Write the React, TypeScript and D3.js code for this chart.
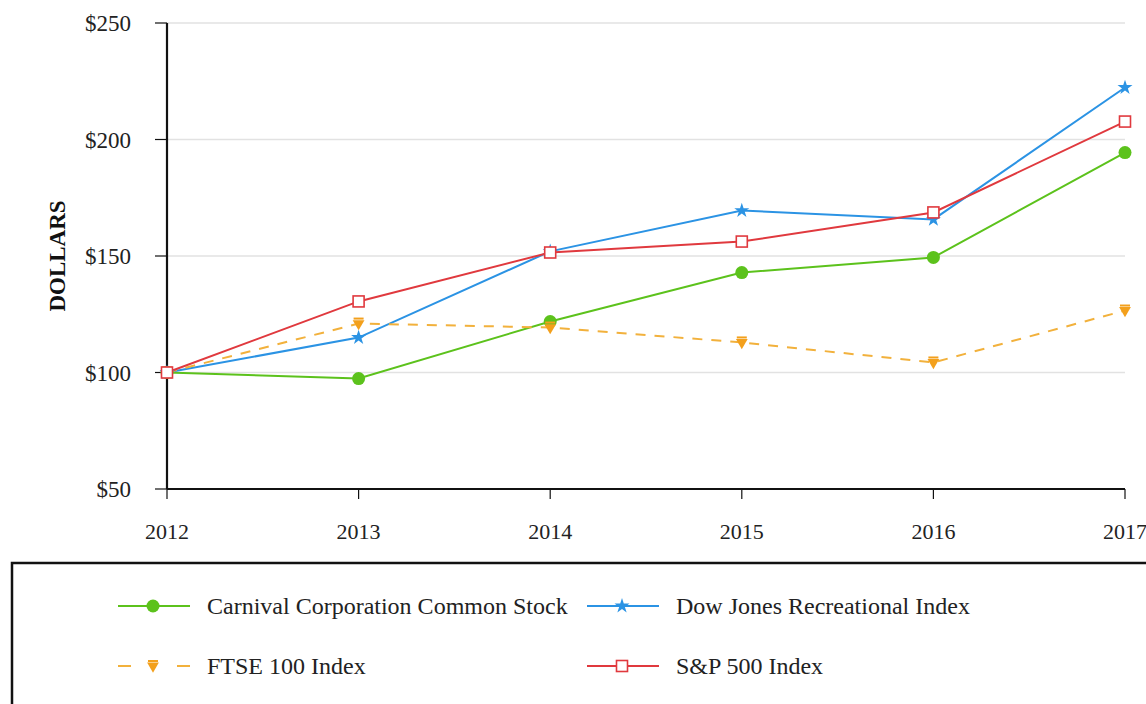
import * as d3 from "d3";

const years = [2012, 2013, 2014, 2015, 2016, 2017];
const carnival = [100, 97.4, 121.9, 142.9, 149.4, 194.4];
const dowJones = [100, 115, 152, 169.5, 165.7, 222.3];
const ftse = [100, 121, 119.3, 112.9, 104.3, 126.6];
const sp500 = [100, 130.5, 151.5, 156.2, 168.7, 207.7];
const yTicks = [50, 100, 150, 200, 250];

const series = [
  { name: "Carnival Corporation Common Stock", values: carnival, color: "#5cc21c", marker: "circle", dash: "" },
  { name: "Dow Jones Recreational Index", values: dowJones, color: "#2b93e4", marker: "star", dash: "" },
  { name: "FTSE 100 Index", values: ftse, color: "#f2b13c", marker: "tri", dash: "10,9" },
  { name: "S&P 500 Index", values: sp500, color: "#e0393e", marker: "square", dash: "" },
];

const W = 1146;
const H = 704;
const FONT = "'Liberation Serif', 'Times New Roman', serif";

function Marker({ kind, x, y, color }: { kind: string; x: number; y: number; color: string }) {
  if (kind === "circle") return <circle cx={x} cy={y} r={6.5} fill={color} />;
  if (kind === "star") {
    const p = d3.symbol().type(d3.symbolStar).size(70)() ?? "";
    return <path d={p} transform={`translate(${x},${y})`} fill={color} />;
  }
  if (kind === "square")
    return <rect x={x - 5.5} y={y - 5.5} width={11} height={11} fill="white" stroke={color} strokeWidth={1.6} />;
  // down-pointing triangle with a little cap, for FTSE
  const p = d3.symbol().type(d3.symbolTriangle).size(60)() ?? "";
  return (
    <g transform={`translate(${x},${y})`} fill="#f3a01c">
      <path d={p} transform="rotate(180)" />
      <rect x={-5} y={-6} width={10} height={2} />
    </g>
  );
}

export default function App() {
  const x = d3.scaleLinear().domain([2012, 2017]).range([167, 1125]);
  const y = d3.scaleLinear().domain([50, 250]).range([489, 23]);
  const line = d3
    .line<number>()
    .x((_, i) => x(years[i]))
    .y((d) => y(d));

  const legendPos = [
    { lx: 118, ly: 606 },
    { lx: 587, ly: 606 },
    { lx: 118, ly: 666 },
    { lx: 587, ly: 666 },
  ];

  return (
    <svg
      width={W}
      height={H}
      style={{ position: "absolute", left: 0, top: 0, background: "white" }}
      fontFamily={FONT}
    >
      {/* grid */}
      {yTicks.slice(1).map((t) => (
        <line key={t} x1={167} x2={1125} y1={y(t)} y2={y(t)} stroke="#e2e2e2" strokeWidth={1.5} />
      ))}
      {/* y axis */}
      <line x1={167} x2={167} y1={y(250)} y2={y(50)} stroke="#111" strokeWidth={2.2} />
      {yTicks.map((t) => (
        <g key={t}>
          <line x1={155} x2={167} y1={y(t)} y2={y(t)} stroke="#111" strokeWidth={1.2} />
          <text x={131} y={y(t)} dy="0.35em" textAnchor="end" fontSize={23} fill="#222">
            {"$" + t}
          </text>
        </g>
      ))}
      {/* x axis */}
      <line x1={167} x2={1125} y1={y(50)} y2={y(50)} stroke="#111" strokeWidth={2.2} />
      {years.map((yr) => (
        <g key={yr}>
          <line x1={x(yr)} x2={x(yr)} y1={y(50)} y2={y(50) + 10} stroke="#111" strokeWidth={1.2} />
          <text x={x(yr)} y={539} textAnchor="middle" fontSize={22} fill="#222">
            {yr}
          </text>
        </g>
      ))}
      <text
        transform={`translate(65,256) rotate(-90)`}
        textAnchor="middle"
        fontSize={23}
        fontWeight="bold"
        fill="#111"
      >
        DOLLARS
      </text>

      {/* lines */}
      {series.map((s) => (
        <path
          key={s.name}
          d={line(s.values) ?? ""}
          fill="none"
          stroke={s.color}
          strokeWidth={2}
          strokeDasharray={s.dash}
        />
      ))}
      {series.map((s) =>
        s.values.map((v, i) => (
          <Marker key={s.name + i} kind={s.marker} x={x(years[i])} y={y(v)} color={s.color} />
        ))
      )}

      {/* legend */}
      <rect x={12} y={563} width={1150} height={160} fill="none" stroke="#111" strokeWidth={2.5} />
      {series.map((s, i) => {
        const { lx, ly } = legendPos[i];
        return (
          <g key={s.name}>
            {s.dash ? (
              <g stroke={s.color} strokeWidth={2}>
                <line x1={lx} x2={lx + 13} y1={ly} y2={ly} />
                <line x1={lx + 59} x2={lx + 72} y1={ly} y2={ly} />
              </g>
            ) : (
              <line x1={lx} x2={lx + 72} y1={ly} y2={ly} stroke={s.color} strokeWidth={2} />
            )}
            <Marker kind={s.marker} x={lx + 35} y={ly} color={s.color} />
            <text x={lx + 89} y={ly} dy="0.33em" fontSize={24} fill="#222">
              {s.name}
            </text>
          </g>
        );
      })}
    </svg>
  );
}
